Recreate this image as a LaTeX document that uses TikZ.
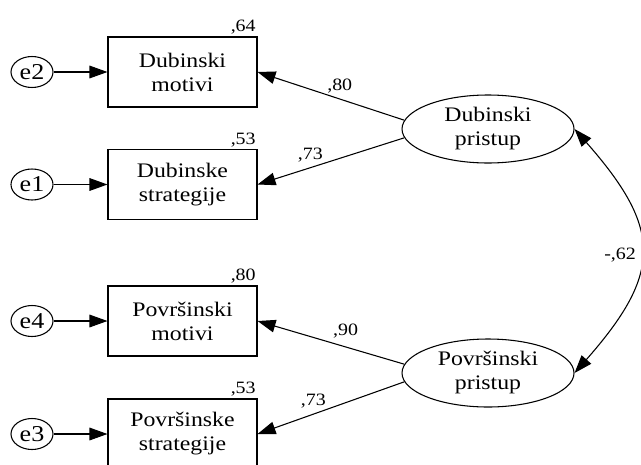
\documentclass[tikz,border=0pt]{standalone}
\usepackage{fontspec}
\setmainfont{Liberation Serif}[FakeStretch=1.15]
\usetikzlibrary{shapes.geometric,arrows.meta}

\tikzset{
  obs/.style={draw, rectangle, minimum width=111.75pt, minimum height=52.5pt,
    inner sep=0pt, align=center, font=\fontsize{15.5}{18}\selectfont},
  lat/.style={draw, ellipse, minimum width=129pt, minimum height=51pt,
    inner sep=0pt, align=center, font=\fontsize{15.5}{18}\selectfont},
  err/.style={draw, ellipse, minimum width=31.5pt, minimum height=23.25pt,
    inner sep=0pt, font=\fontsize{17}{19}\selectfont},
  coef/.style={font=\fontsize{13}{15}\selectfont, inner sep=1pt}
}

\begin{document}
\begin{tikzpicture}[x=0.75pt, y=-0.75pt, line width=0.8pt,
  >={Triangle[length=13.5pt,width=9.5pt]}]
\useasboundingbox (0,0) rectangle (641,464);
\clip (0,0) rectangle (641,464);
% observed variables
\node[obs] (dm) at (182.5,72) {Dubinski\\motivi};
\node[obs] (ds) at (182.5,184.5) {Dubinske\\strategije};
\node[obs] (pm) at (182.5,321) {Površinski\\motivi};
\node[obs] (ps) at (182.5,434) {Površinske\\strategije};
% errors
\node[err] (e2) at (32,72) {e2};
\node[err] (e1) at (32,184.5) {e1};
\node[err] (e4) at (32,321) {e4};
\node[err] (e3) at (32,434) {e3};
\draw[->] (e2) -- (dm);
\draw[->] (e1) -- (ds);
\draw[->] (e4) -- (pm);
\draw[->] (e3) -- (ps);
% squared multiple correlations
\node[coef, anchor=south east] at (dm.north east) {,64};
\node[coef, anchor=south east] at (ds.north east) {,53};
\node[coef, anchor=south east] at (pm.north east) {,80};
\node[coef, anchor=south east] at (ps.north east) {,53};
% latent factors
\node[lat] (dp) at (488,129) {Dubinski\\pristup};
\node[lat] (pp) at (488,373) {Površinski\\pristup};
\draw[->] (dp.174) -- (dm.east) node[coef, pos=0.44, above=3pt] {,80};
\draw[->] (dp.186) -- (ds.east) node[coef, pos=0.64, above=3pt] {,73};
\draw[->] (pp.174) -- (pm.east) node[coef, pos=0.40, above=5pt] {,90};
\draw[->] (pp.186) -- (ps.east) node[coef, pos=0.62, above=3pt] {,73};
% covariance
\draw[<->] (dp.east) .. controls +(88,100) and +(88,-100) .. (pp.east)
  node[coef, pos=0.52, left, inner sep=3pt] {-,62};
\end{tikzpicture}
\end{document}
